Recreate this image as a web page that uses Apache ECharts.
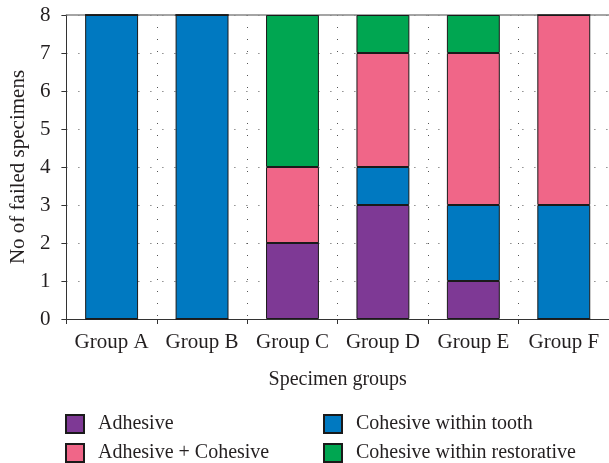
<!DOCTYPE html>
<html>
<head>
<meta charset="utf-8">
<script src="https://cdn.jsdelivr.net/npm/echarts@6/dist/echarts.min.js"></script>
<style>html,body{margin:0;padding:0;background:#fff}#c{width:609px;height:463px}</style>
</head>
<body>
<div id="c"></div>
<script>
const categories = ['Group A', 'Group B', 'Group C', 'Group D', 'Group E', 'Group F'];
const adhesive = [0, 0, 2, 3, 1, 0];
const cohesiveTooth = [8, 8, 0, 1, 2, 3];
const adhesiveCohesive = [0, 0, 2, 3, 4, 5];
const cohesiveRestorative = [0, 0, 4, 1, 1, 0];
const yTicks = [0, 1, 2, 3, 4, 5, 6, 7, 8];

const FONT = 'Liberation Serif';
const TXT = '#231f20';
const chart = echarts.init(document.getElementById('c'));
function mk(name, data, color) {
  return {
    type: 'bar', stack: 'total', barWidth: '58.5%',
    name, data,
    itemStyle: { color, borderColor: '#1a1a1a', borderWidth: 1 }
  };
}
const legendBase = {
  orient: 'vertical', top: 414, padding: 0, itemWidth: 18, itemHeight: 18, itemGap: 9,
  icon: 'rect',
  textStyle: { fontFamily: FONT, fontSize: 20, color: TXT, padding: [0, 0, 0, 9] }
};
chart.setOption({
  animation: false,
  textStyle: { fontFamily: FONT, color: TXT },
  grid: { left: 66, right: 0, top: 15, bottom: 144, containLabel: false },
  xAxis: [{
    type: 'category', data: categories,
    axisLine: { lineStyle: { color: '#333', width: 1 } },
    axisTick: { show: true, length: 5, interval: 0, lineStyle: { color: '#333' } },
    axisLabel: { fontFamily: FONT, fontSize: 21, color: TXT, margin: 13, interval: 0 },
    splitLine: { show: true, interval: 0, lineStyle: { type: [1, 11], color: '#555', width: 1 } },
    name: 'Specimen groups', nameLocation: 'middle', nameGap: 51,
    nameTextStyle: { fontFamily: FONT, fontSize: 20, color: TXT }
  }, {
    type: 'category', data: categories, position: 'top',
    axisLine: { lineStyle: { color: '#888', width: 1.5 } },
    axisTick: { show: false }, axisLabel: { show: false }
  }],
  yAxis: {
    type: 'value', min: 0, max: 8, interval: 1,
    axisLine: { show: true, lineStyle: { color: '#333', width: 1 } },
    axisTick: { show: true, length: 5, lineStyle: { color: '#333' } },
    axisLabel: {
      fontFamily: FONT, fontSize: 21, color: TXT, margin: 16,
      formatter: v => String(yTicks[v] !== undefined ? yTicks[v] : v)
    },
    splitLine: { show: true, lineStyle: { type: [1, 11], color: '#555', width: 1 } },
    name: 'No of failed specimens', nameLocation: 'middle', nameGap: 37,
    nameTextStyle: { fontFamily: FONT, fontSize: 21, color: TXT }
  },
  legend: [
    Object.assign({}, legendBase, { left: 65, data: ['Adhesive', 'Adhesive + Cohesive'] }),
    Object.assign({}, legendBase, { left: 323, data: ['Cohesive within tooth', 'Cohesive within restorative'] })
  ],
  series: [
    mk('Adhesive', adhesive, '#7e3995'),
    mk('Cohesive within tooth', cohesiveTooth, '#0079c1'),
    mk('Adhesive + Cohesive', adhesiveCohesive, '#f06688'),
    mk('Cohesive within restorative', cohesiveRestorative, '#00a651')
  ]
});
</script>
</body>
</html>
